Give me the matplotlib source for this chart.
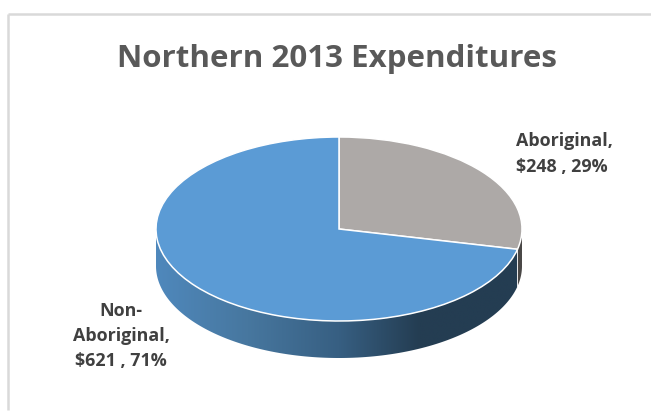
import numpy as np
import matplotlib
matplotlib.use("Agg")
import matplotlib.pyplot as plt
from matplotlib.colors import LinearSegmentedColormap
from matplotlib.lines import Line2D
from matplotlib.patches import Polygon

categories = ["Aboriginal", "Non-Aboriginal"]
amounts = [248, 621]
label_texts = ["Aboriginal,\n$248 , 29%", "Non-\nAboriginal,\n$621 , 71%"]
colors = ["#ADA9A7", "#5B9BD5"]
title = "Northern 2013 Expenditures"

W, H = 651, 412
plt.rcParams["font.family"] = ["Open Sans", "DejaVu Sans"]
fig = plt.figure(figsize=(W / 100, H / 100), dpi=100, facecolor="white")

# pie axes: one data unit = the radius of the ellipse
cx, cy, rx, ry = 339, 229, 183, 92
depth = 37 / ry
span = 1.6
ax = fig.add_axes([(cx - span * rx) / W, 1 - (cy + span * ry) / H,
                   2 * span * rx / W, 2 * span * ry / H])

total = sum(amounts)
sweep = 360 * amounts[0] / total
split = 90 - sweep  # boundary on the front right edge, degrees

wedges, _ = ax.pie(amounts, colors=colors, startangle=90, counterclock=False,
                   radius=1, wedgeprops=dict(edgecolor="white", linewidth=1.1, zorder=3))
ax.set_aspect("auto")
ax.set_xlim(-span, span)
ax.set_ylim(-span, span)


def wall(a0, a1):
    t = np.radians(np.linspace(a0, a1, 200))
    top = np.c_[np.cos(t), np.sin(t)]
    bottom = (top - [0, depth])[::-1]
    return np.vstack([top, bottom])


# front wall of the blue slice, with its horizontal shading
front_a0, front_a1 = 180, 360 + split
cmap = LinearSegmentedColormap.from_list(
    "wall", [(0, "#4F88BC"), (0.25, "#47779F"), (0.5, "#375F82"), (0.72, "#243D52"), (1, "#243D52")])
img = ax.imshow(np.linspace(0, 1, 256)[None, :], cmap=cmap, extent=(-1, 1, -1 - depth, 0.2),
                aspect="auto", zorder=1, interpolation="bilinear")
clip = Polygon(wall(front_a0, front_a1), closed=True, transform=ax.transData,
               facecolor="none", edgecolor="none")
ax.add_patch(clip)
img.set_clip_path(clip)
ax.set_xlim(-span, span)
ax.set_ylim(-span, span)

# front wall of the grey slice
ax.add_patch(Polygon(wall(360 + split, 360), closed=True, facecolor="#4A4847",
                     edgecolor="none", zorder=1))
t = np.radians(360 + split)
ax.plot([np.cos(t)] * 2, [np.sin(t), np.sin(t) - depth], color="white", lw=0.6, zorder=2)

fig.text(337 / W, 1 - 59 / H, title, ha="center", va="center",
         fontsize=22.5, fontweight="bold", color="#595959")
fig.text(516 / W, 1 - 154 / H, label_texts[0], ha="left", va="center", linespacing=1.5,
         fontsize=12.9, fontweight="bold", color="#404040")
fig.text(121 / W, 1 - 336 / H, label_texts[1], ha="center", va="center", linespacing=1.5, multialignment="center",
         fontsize=12.9, fontweight="bold", color="#404040")

# chart frame: only the top and left edges are in view
for xs, ys in (([8, W], [14, 14]), ([8, 8], [14, 410])):
    fig.add_artist(Line2D([x / W for x in xs], [1 - y / H for y in ys],
                          color="#D9D9D9", lw=1.8, solid_capstyle="butt"))

fig.savefig("out.png", dpi=100)
